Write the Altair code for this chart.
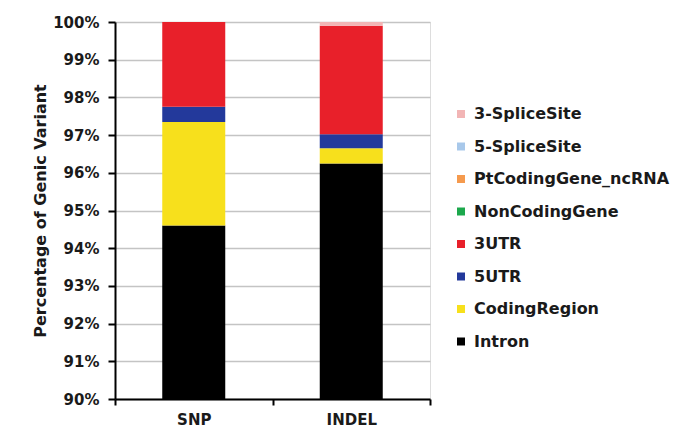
import altair as alt
import pandas as pd

categories = ["SNP", "INDEL"]
variant_types = ["Intron", "CodingRegion", "5UTR", "3UTR", "NonCodingGene",
                 "PtCodingGene_ncRNA", "5-SpliceSite", "3-SpliceSite"]
snp_values = [94.6, 2.75, 0.40, 2.25, 0.0, 0.0, 0.0, 0.0]
indel_values = [96.25, 0.40, 0.37, 2.88, 0.0, 0.0, 0.0, 0.10]
type_colors = ["#000000", "#f7e01c", "#23399b", "#e8202a", "#1ca84c",
               "#f59a4e", "#a8c8ea", "#f2b5b5"]
y_ticks = [90, 91, 92, 93, 94, 95, 96, 97, 98, 99, 100]

rows = []
for cat, vals in zip(categories, [snp_values, indel_values]):
    for i, (t, v) in enumerate(zip(variant_types, vals)):
        rows.append({"sample": cat, "type": t, "value": v, "rank": i})
df = pd.DataFrame(rows)

legend_order = list(reversed(variant_types))
legend_colors = list(reversed(type_colors))

FONT = "DejaVu Sans"
TXT = "#1a1a1a"

chart = alt.Chart(df).mark_bar(clip=True, width=alt.RelativeBandSize(0.4)).encode(
    x=alt.X("sample:N", sort=categories,
            scale=alt.Scale(paddingInner=0, paddingOuter=0),
            axis=alt.Axis(title=None, labelAngle=0, tickBand="extent",
                          tickSize=6, tickWidth=2, tickColor="#000000",
                          domainColor="#000000", domainWidth=2,
                          labelPadding=7, labelFontSize=15,
                          labelFontWeight="bold", labelFont=FONT,
                          labelColor=TXT, grid=False)),
    y=alt.Y("value:Q", stack="zero",
            scale=alt.Scale(domain=[90, 100], nice=False, zero=False),
            axis=alt.Axis(values=y_ticks, labelExpr="datum.value + '%'",
                          title="Percentage of Genic Variant",
                          titleX=-75, titleBaseline="middle", titleAlign="center",
                          titleFontSize=16, titleFontWeight="bold", titleFont=FONT,
                          titleColor=TXT,
                          tickSize=7, tickWidth=2, tickColor="#000000",
                          domainColor="#000000", domainWidth=2,
                          labelPadding=9, labelFontSize=15, labelFontWeight="bold",
                          labelFont=FONT, labelColor=TXT,
                          grid=True, gridColor="#c4c4c4", gridWidth=1.5)),
    color=alt.Color("type:N",
                    scale=alt.Scale(domain=legend_order, range=legend_colors),
                    legend=alt.Legend(title=None, orient="none", legendX=338, legendY=84,
                                      symbolType="square", symbolSize=64,
                                      symbolStrokeWidth=0, labelFontSize=16,
                                      labelFontWeight="bold", labelFont=FONT,
                                      labelColor=TXT, labelOffset=5, rowPadding=16.5,
                                      padding=0, labelLimit=400)),
    order=alt.Order("rank:Q", sort="ascending"),
).properties(
    width=315, height=377,
    padding={"left": 107, "top": 14, "right": 244, "bottom": 29},
    autosize="none",
).configure_view(stroke=None).configure(background="#ffffff")

chart.save("out.html", embed_options={"renderer": "svg", "actions": False})
